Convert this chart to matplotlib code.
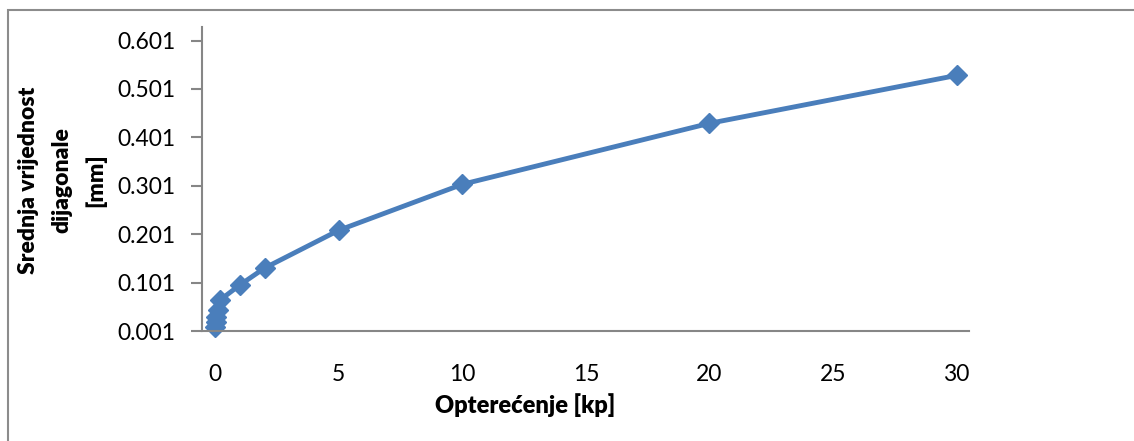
import matplotlib.pyplot as plt
from matplotlib.patches import Rectangle

# Opterećenje [kp] vs srednja vrijednost dijagonale [mm]
load_kp = [0.01, 0.025, 0.05, 0.1, 0.2, 1, 2, 5, 10, 20, 30]
diag_mm = [0.009, 0.020, 0.030, 0.044, 0.065, 0.096, 0.131, 0.209, 0.304, 0.430, 0.529]

y_ticks = [0.001, 0.101, 0.201, 0.301, 0.401, 0.501, 0.601]
x_ticks = [0, 5, 10, 15, 20, 25, 30]

line_color = "#4a7ebb"
axis_color = "#868686"

fig = plt.figure(figsize=(11.34, 4.41), dpi=100)

# outer chart frame (cut off at right and bottom)
fig.patches.append(Rectangle((8 / 1134, -0.1), 1.2, 1.1 - 10 / 441,
                             transform=fig.transFigure, fill=False,
                             edgecolor="#8c8c8c", linewidth=1.5))

ax = fig.add_axes([202 / 1134, 1 - 331 / 441, (969 - 202) / 1134, (331 - 27) / 441])
ax.plot(load_kp, diag_mm, color=line_color, linewidth=3.5,
        marker="D", markersize=10, markerfacecolor=line_color,
        markeredgecolor=line_color, clip_on=False)

ax.set_xlim(-0.53, 30.5)
ax.set_ylim(0.001, 0.629)
ax.set_xticks(x_ticks)
ax.set_yticks(y_ticks)
ax.set_yticklabels([f"{v:.3f}" for v in y_ticks])

for s in ["top", "right"]:
    ax.spines[s].set_visible(False)
for s in ["left", "bottom"]:
    ax.spines[s].set_color(axis_color)
    ax.spines[s].set_linewidth(1.5)

ax.tick_params(axis="y", length=8, width=1.5, color=axis_color, pad=11,
               labelsize=16.5)
ax.tick_params(axis="x", length=0, pad=24, labelsize=16.5)
for lab in ax.get_xticklabels() + ax.get_yticklabels():
    lab.set_fontfamily("Lato")

ax.set_xlabel("Opterećenje [kp]", fontfamily="Lato", fontweight="heavy",
              fontsize=17)
ax.xaxis.set_label_coords((525 - 202) / 767, -0.205)
ax.set_ylabel("Srednja vrijednost\ndijagonale\n[mm]", fontfamily="Lato",
              fontweight="heavy", fontsize=16.5, linespacing=1.7)
ax.yaxis.set_label_coords(-0.125, 0.497)

fig.savefig("out.png", dpi=100)
